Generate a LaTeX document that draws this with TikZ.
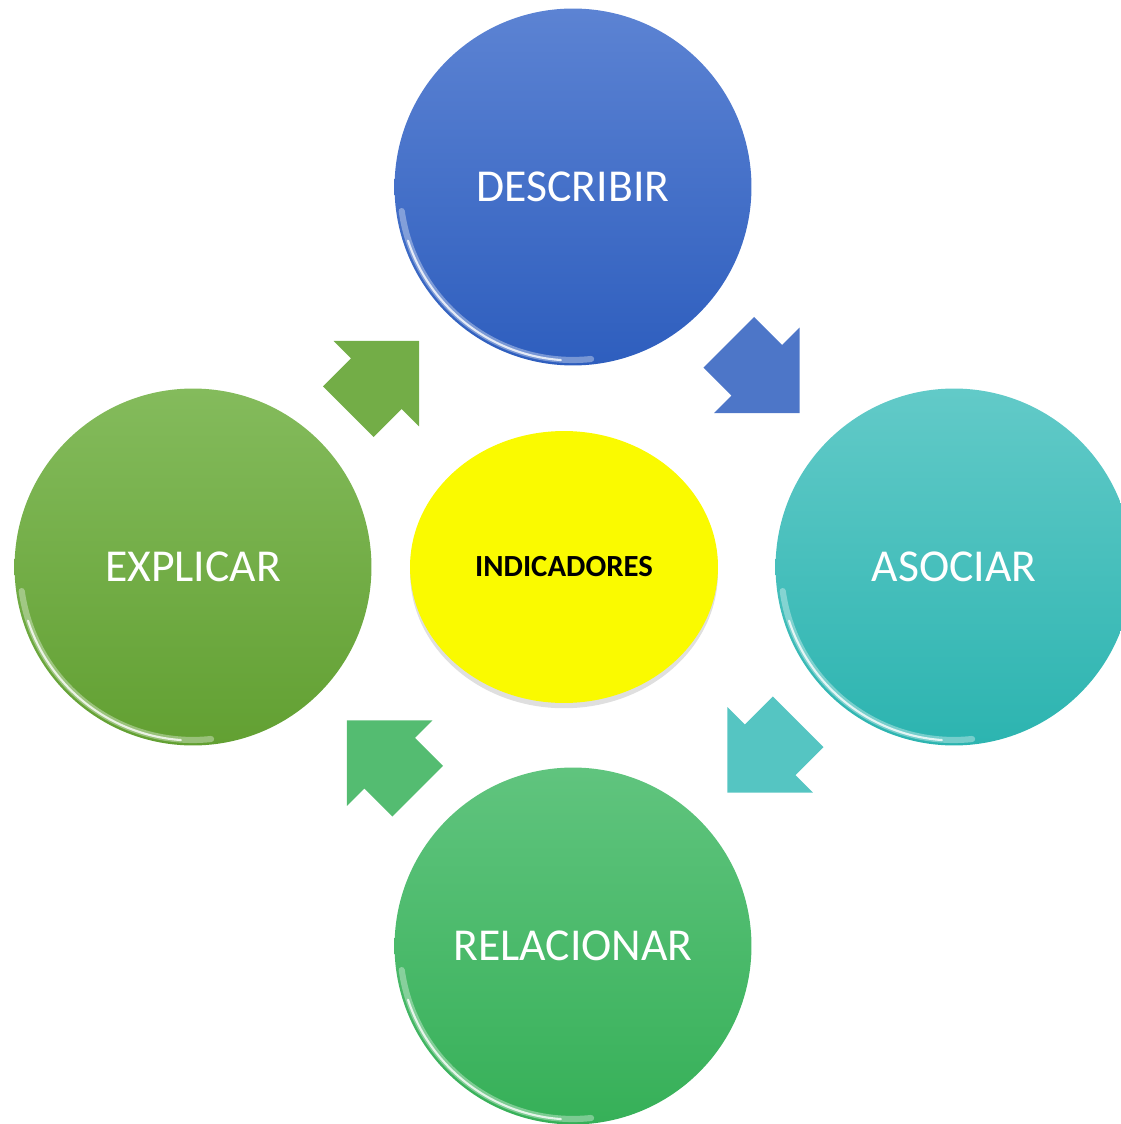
\documentclass[tikz,border=0pt]{standalone}
\usepackage{fontspec}
\setmainfont{Carlito}
\usepackage{tikz}
\usetikzlibrary{shapes.arrows,shapes.geometric,shadows,calc}

\definecolor{bluetop}{RGB}{92,131,211}
\definecolor{bluebot}{RGB}{46,94,190}
\definecolor{tealtop}{RGB}{98,202,200}
\definecolor{tealbot}{RGB}{44,180,176}
\definecolor{greentop}{RGB}{96,196,126}
\definecolor{greenbot}{RGB}{54,176,88}
\definecolor{limetop}{RGB}{132,187,92}
\definecolor{limebot}{RGB}{98,160,50}
\definecolor{yel}{RGB}{250,250,0}

\tikzset{
  ball/.style={circle,minimum size=7.14cm,inner sep=0pt,text=white,
    font=\fontsize{26}{30}\selectfont},
  hub/.style={ellipse,minimum width=6.16cm,minimum height=5.44cm,inner sep=0pt,
    fill=yel,font=\fontsize{17.5}{20}\selectfont\bfseries,
    drop shadow={shadow xshift=0pt,shadow yshift=-3pt,opacity=0.25}},
  flecha/.style={single arrow,minimum height=2cm,inner xsep=0pt,inner ysep=0.71cm,
    single arrow head extend=0.49cm},
  brillo/.style={white,line cap=round}
}

\begin{document}
\begin{tikzpicture}[x=0.02cm,y=-0.02cm]
\useasboundingbox (0,0) rectangle (1120,1124);
% circulos
\node at (573,187)[ball,top color=bluetop,bottom color=bluebot](describir){DESCRIBIR};
\node at (954,567)[ball,top color=tealtop,bottom color=tealbot](asociar){ASOCIAR};
\node at (573,946)[ball,top color=greentop,bottom color=greenbot](relacionar){RELACIONAR};
\node at (193,567)[ball,top color=limetop,bottom color=limebot](explicar){EXPLICAR};
% brillo del borde
\foreach \n in {describir,asociar,relacionar,explicar}{
  \draw[brillo,opacity=0.35,line width=3.5pt] ($(\n.center)+(188:3.46cm)$) arc[start angle=188,end angle=276,radius=3.46cm];
  \draw[brillo,opacity=0.8,line width=1.2pt] ($(\n.center)+(198:3.47cm)$) arc[start angle=198,end angle=266,radius=3.47cm];
}
% centro
\node at (564,567)[hub](indicadores){INDICADORES};
% flechas
\node at ($(describir)!0.5!(asociar)+(-12,-12)$)[flecha,rotate=-45,fill=bluebot!85!white](f1){};
\node at ($(asociar)!0.5!(relacionar)+(12,-12)$)[flecha,rotate=-135,fill=tealtop!75!tealbot](f2){};
\node at ($(relacionar)!0.5!(explicar)+(12,12)$)[flecha,rotate=135,fill=greenbot!85!white](f3){};
\node at ($(explicar)!0.5!(describir)+(-12,12)$)[flecha,rotate=45,fill=limetop!50!limebot](f4){};
\end{tikzpicture}
\end{document}
